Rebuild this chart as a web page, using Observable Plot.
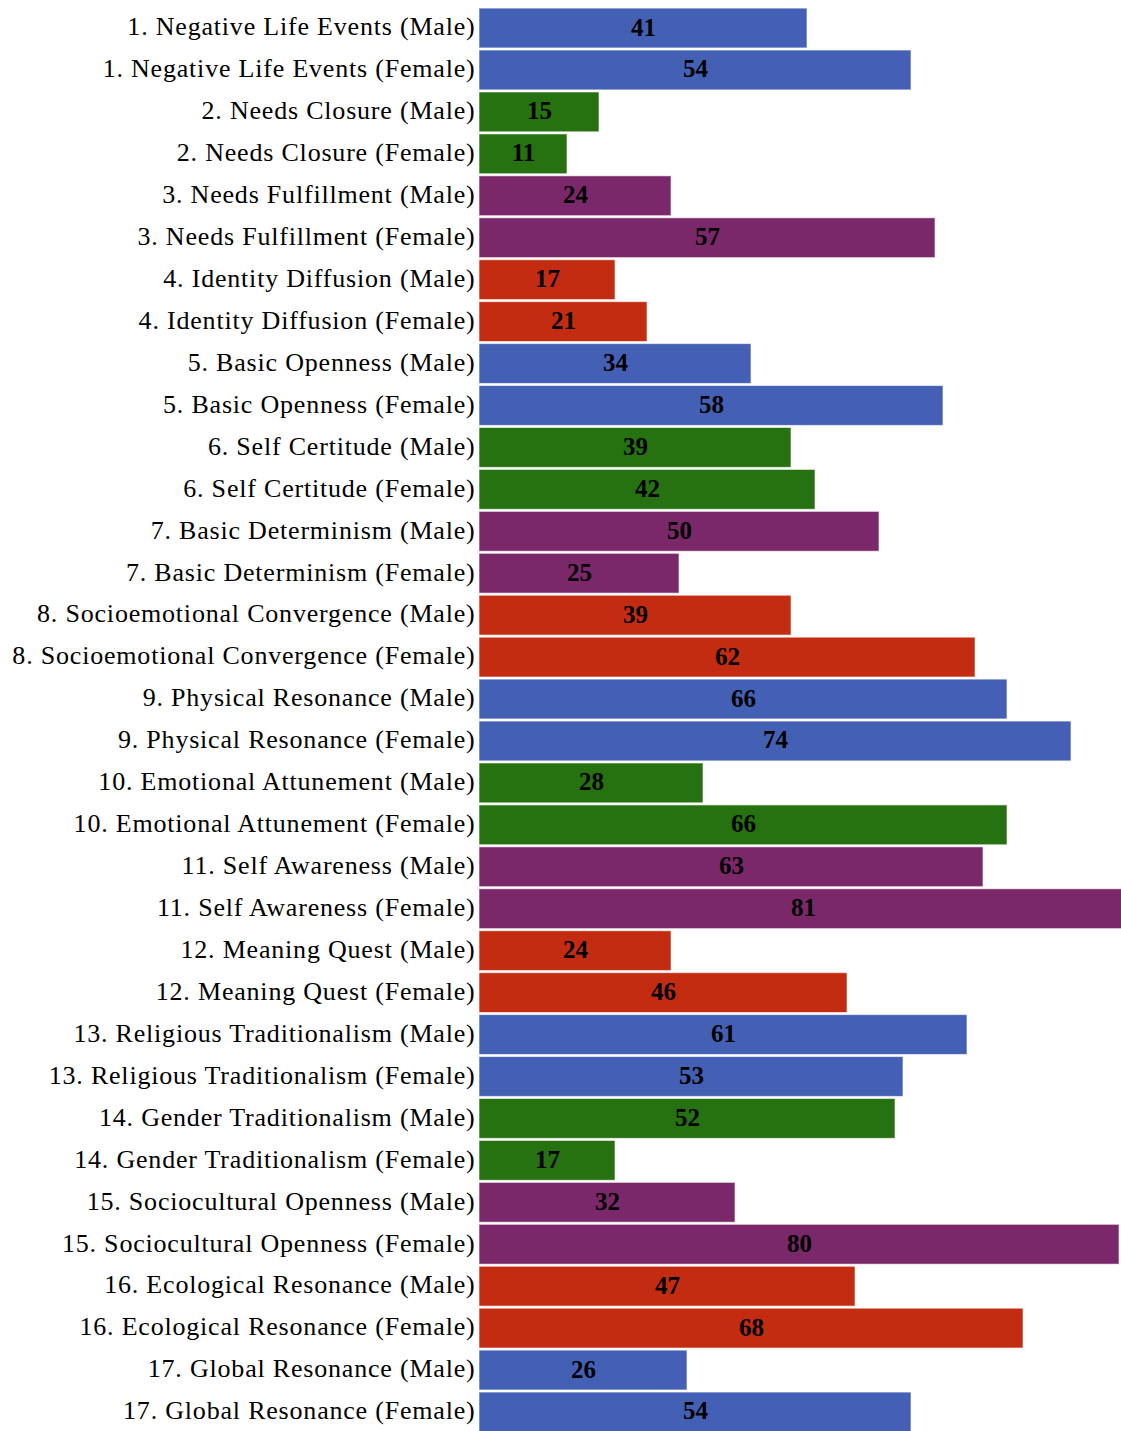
<!DOCTYPE html>
<html>
<head>
<meta charset="utf-8">
<script src="https://cdn.jsdelivr.net/npm/d3@7"></script>
<script src="https://cdn.jsdelivr.net/npm/@observablehq/plot@0.6"></script>
<style>
  html, body { margin: 0; padding: 0; background: #fff; overflow: hidden; }
  .ylab text { letter-spacing: 0.8px; }
</style>
</head>
<body>
<div id="chart"></div>
<script>
const factors = [
  "Negative Life Events", "Needs Closure", "Needs Fulfillment", "Identity Diffusion",
  "Basic Openness", "Self Certitude", "Basic Determinism", "Socioemotional Convergence",
  "Physical Resonance", "Emotional Attunement", "Self Awareness", "Meaning Quest",
  "Religious Traditionalism", "Gender Traditionalism", "Sociocultural Openness",
  "Ecological Resonance", "Global Resonance"
];
const maleValues =   [41, 15, 24, 17, 34, 39, 50, 39, 66, 28, 63, 24, 61, 52, 32, 47, 26];
const femaleValues = [54, 11, 57, 21, 58, 42, 25, 62, 74, 66, 81, 46, 53, 17, 80, 68, 54];
const palette = ["#4460b4", "#267110", "#7a2869", "#c32c11"];

const rows = [];
factors.forEach((f, i) => {
  rows.push({label: `${i + 1}. ${f} (Male)`, value: maleValues[i], color: palette[i % 4]});
  rows.push({label: `${i + 1}. ${f} (Female)`, value: femaleValues[i], color: palette[i % 4]});
});

const chart = Plot.plot({
  width: 1121,
  height: 1434,
  marginLeft: 479,
  marginRight: 0,
  marginTop: 6,
  marginBottom: 0,
  style: {fontFamily: "'Liberation Serif', 'Times New Roman', serif", fontSize: "26px", background: "#fff"},
  x: {domain: [0, 80.25], axis: null},
  y: {domain: rows.map(d => d.label), padding: 0.05, label: null, axis: null},
  marks: [
    Plot.barX(rows, {x: "value", y: "label", fill: "color", stroke: "#ffffff", strokeOpacity: 0.6, strokeWidth: 1}),
    Plot.text(rows, {x: d => d.value / 2, y: "label", dy: -1, text: d => String(d.value), fill: "#000", fontWeight: "bold", fontSize: 25}),
    Plot.axisY({tickSize: 0, tickPadding: 4, dy: -1.5, fontSize: 26, label: null, fill: "#000", className: "ylab"})
  ]
});
document.getElementById("chart").appendChild(chart);
</script>
</body>
</html>
